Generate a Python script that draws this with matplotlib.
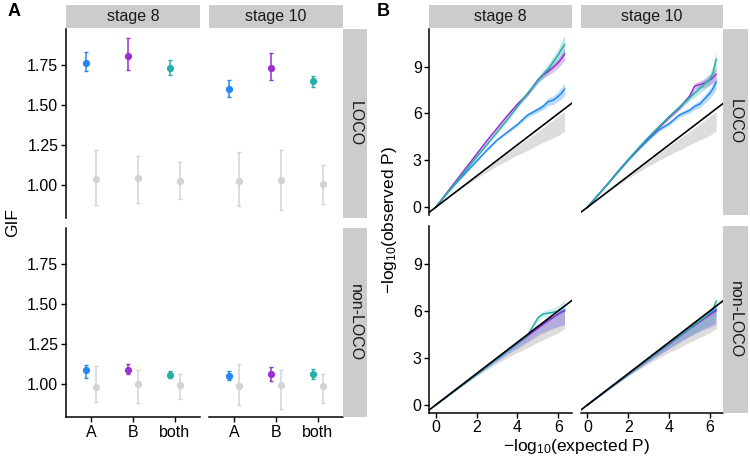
import matplotlib
matplotlib.use("Agg")
import matplotlib.pyplot as plt
import numpy as np

plt.rcParams['font.family'] = ['Liberation Sans', 'DejaVu Sans']
plt.rcParams['mathtext.fontset'] = 'custom'
plt.rcParams['mathtext.rm'] = 'Liberation Sans'
plt.rcParams['mathtext.it'] = 'Liberation Sans'

# ---- data: panel A (GIF estimates, colored = real trait, grey = null) ----
stages = ['stage 8', 'stage 10']
models = ['LOCO', 'non-LOCO']
traits = ['A', 'B', 'both']
trait_colors = ['#2389F0', '#9B30D0', '#22B2A8']

# [model][stage][trait]
gif_est = [[[1.767, 1.808, 1.735], [1.602, 1.731, 1.650]],
           [[1.086, 1.090, 1.058], [1.052, 1.062, 1.062]]]
gif_lo = [[[1.714, 1.720, 1.690], [1.550, 1.656, 1.612]],
          [[1.040, 1.064, 1.040], [1.023, 1.020, 1.033]]]
gif_hi = [[[1.830, 1.920, 1.780], [1.660, 1.825, 1.683]],
          [[1.120, 1.127, 1.083], [1.083, 1.104, 1.094]]]
null_est = [[[1.036, 1.042, 1.023], [1.023, 1.030, 1.006]],
            [[0.980, 1.002, 0.996], [0.990, 0.994, 0.988]]]
null_lo = [[[0.877, 0.886, 0.910], [0.866, 0.843, 0.878]],
           [[0.887, 0.880, 0.908], [0.871, 0.846, 0.880]]]
null_hi = [[[1.220, 1.180, 1.144], [1.205, 1.220, 1.128]],
           [[1.114, 1.090, 1.064], [1.127, 1.088, 1.060]]]

# ---- data: panel B (QQ curves) ----
qq_x = [0, 0.5, 1, 1.5, 2, 2.5, 3, 3.5, 4, 4.5, 5, 5.25, 5.5, 5.75, 6, 6.15, 6.3]

s8_loco_A = [0, 0.8, 1.55, 2.25, 2.95, 3.65, 4.3, 4.8, 5.3, 5.9, 6.25, 6.45, 6.75, 6.85, 7.1, 7.3, 7.55]
s8_loco_B = [0, 0.85, 1.7, 2.55, 3.4, 4.25, 5.05, 5.85, 6.6, 7.25, 8.15, 8.45, 8.7, 8.95, 9.25, 9.5, 9.8]
s8_loco_both = [0, 0.8, 1.6, 2.4, 3.2, 4.0, 4.8, 5.6, 6.45, 7.3, 8.1, 8.5, 8.85, 9.3, 9.75, 10.1, 10.4]
s10_loco_A = [0, 0.75, 1.5, 2.25, 3.0, 3.7, 4.35, 4.95, 5.35, 5.9, 6.2, 6.45, 6.6, 6.95, 7.3, 7.6, 8.0]
s10_loco_B = [0, 0.75, 1.5, 2.3, 3.05, 3.75, 4.45, 5.1, 5.75, 6.35, 7.1, 7.75, 7.85, 7.95, 8.15, 8.3, 8.5]
s10_loco_both = [0, 0.75, 1.5, 2.3, 3.05, 3.8, 4.5, 5.15, 5.8, 6.4, 7.0, 7.3, 7.6, 7.9, 8.2, 8.6, 9.45]
s8_non_A = [0, 0.49, 0.98, 1.47, 1.96, 2.45, 2.94, 3.43, 3.92, 4.42, 5.0, 5.2, 5.4, 5.6, 5.8, 5.95, 6.05]
s8_non_B = [0, 0.49, 0.98, 1.48, 1.98, 2.48, 2.98, 3.47, 3.93, 4.4, 4.88, 5.12, 5.35, 5.58, 5.8, 5.92, 6.0]
s8_non_both = [0, 0.48, 0.97, 1.45, 1.95, 2.45, 2.95, 3.45, 3.95, 4.45, 5.55, 5.8, 5.85, 5.9, 6.0, 6.15, 6.3]
s10_non_A = [0, 0.49, 0.98, 1.47, 1.96, 2.45, 2.94, 3.43, 3.92, 4.4, 4.88, 5.12, 5.36, 5.6, 5.84, 5.98, 6.1]
s10_non_B = [0, 0.49, 0.98, 1.46, 1.95, 2.44, 2.92, 3.4, 3.88, 4.36, 4.84, 5.07, 5.3, 5.52, 5.75, 5.88, 6.0]
s10_non_both = [0, 0.49, 0.98, 1.47, 1.96, 2.45, 2.94, 3.43, 3.92, 4.4, 4.88, 5.12, 5.36, 5.6, 5.9, 6.1, 6.6]

# ribbon widths below / above each curve
ci_small = [0, 0.02, 0.03, 0.04, 0.05, 0.06, 0.08, 0.1, 0.12, 0.14, 0.17, 0.2, 0.24, 0.28, 0.32, 0.36, 0.42]
ci_teal_end = [0, 0.02, 0.03, 0.04, 0.05, 0.06, 0.08, 0.1, 0.12, 0.15, 0.2, 0.25, 0.3, 0.35, 0.4, 0.5, 0.6]
ci_down_wide = [0, 0.02, 0.04, 0.06, 0.08, 0.12, 0.16, 0.22, 0.3, 0.38, 0.48, 0.55, 0.62, 0.7, 0.8, 0.85, 0.9]
ci_up_narrow = [0, 0.01, 0.02, 0.02, 0.03, 0.04, 0.05, 0.06, 0.07, 0.08, 0.1, 0.1, 0.12, 0.12, 0.14, 0.15, 0.2]
ci_spike_up = [0, 0.01, 0.02, 0.02, 0.03, 0.04, 0.05, 0.06, 0.07, 0.08, 0.1, 0.1, 0.12, 0.12, 0.14, 0.25, 0.35]

null_band_lo = [0, 0.5, 0.97, 1.42, 1.85, 2.25, 2.65, 3.0, 3.35, 3.65, 4.0, 4.15, 4.3, 4.45, 4.6, 4.75, 4.85]
null_band_hi = [0, 0.5, 1.0, 1.5, 2.0, 2.48, 2.97, 3.45, 3.93, 4.4, 4.85, 5.1, 5.35, 5.6, 5.85, 6.0, 6.1]

qq_curves = [[[s8_loco_A, s8_loco_B, s8_loco_both], [s10_loco_A, s10_loco_B, s10_loco_both]],
             [[s8_non_A, s8_non_B, s8_non_both], [s10_non_A, s10_non_B, s10_non_both]]]
qq_down = [[[ci_small, ci_small, ci_teal_end], [ci_small, ci_small, ci_teal_end]],
           [[ci_down_wide, ci_down_wide, ci_small], [ci_down_wide, ci_down_wide, ci_down_wide]]]
qq_up = [[[ci_small, ci_small, ci_teal_end], [ci_small, ci_small, ci_teal_end]],
         [[ci_up_narrow, ci_up_narrow, ci_small], [ci_up_narrow, ci_up_narrow, ci_spike_up]]]

W, H = 750, 461
fig = plt.figure(figsize=(W / 100, H / 100), dpi=100)
STRIP = '#CCCCCC'
GREY = '#D3D3D3'


def ax_px(x0, y0, x1, y1):
    return fig.add_axes([x0 / W, 1 - y1 / H, (x1 - x0) / W, (y1 - y0) / H])


def strip(x0, y0, x1, y1, label, rot=0):
    s = ax_px(x0, y0, x1, y1)
    s.set_facecolor(STRIP)
    s.set_xticks([])
    s.set_yticks([])
    for sp in s.spines.values():
        sp.set_visible(False)
    s.text(0.5, 0.5, label, transform=s.transAxes, ha='center', va='center',
           rotation=rot, fontsize=11.5, color='#1A1A1A')


def style_axis(ax, row, col):
    for sp in ['top', 'right']:
        ax.spines[sp].set_visible(False)
    ax.spines['left'].set_visible(col == 0)
    ax.spines['bottom'].set_visible(row == 1)
    for sp in ['left', 'bottom']:
        ax.spines[sp].set_linewidth(1.1)
    ax.tick_params(axis='both', length=3.5, width=1.0, labelsize=11.5, colors='black', pad=2)
    if col != 0:
        ax.tick_params(axis='y', left=False, labelleft=False)
    if row != 1:
        ax.tick_params(axis='x', bottom=False, labelbottom=False)


# ---- Panel A ----
a_cols = [(66, 200), (209, 343)]
a_rows = [(29, 218), (228, 417)]
pos = np.arange(1, len(traits) + 1)
dodge = 0.125
for r, (y0, y1) in enumerate(a_rows):
    for c, (x0, x1) in enumerate(a_cols):
        ax = ax_px(x0, y0, x1, y1)
        for k in range(len(traits)):
            e = null_est[r][c][k]
            ax.errorbar(pos[k] + dodge, e,
                        yerr=[[e - null_lo[r][c][k]], [null_hi[r][c][k] - e]],
                        fmt='o', color=GREY, ms=4.2, elinewidth=1.1, capsize=1.6, capthick=1.0)
            g = gif_est[r][c][k]
            ax.errorbar(pos[k] - dodge, g,
                        yerr=[[g - gif_lo[r][c][k]], [gif_hi[r][c][k] - g]],
                        fmt='o', color=trait_colors[k], ms=4.2, elinewidth=1.1, capsize=1.6, capthick=1.0)
        ax.set_xlim(0.4, 3.6)
        ax.set_ylim(0.793, 1.977)
        ax.set_xticks(pos)
        ax.set_xticklabels(traits)
        ax.set_yticks([1.00, 1.25, 1.50, 1.75])
        ax.set_yticklabels(['1.00', '1.25', '1.50', '1.75'])
        style_axis(ax, r, c)
for c, (x0, x1) in enumerate(a_cols):
    strip(x0, 5, x1, 28, stages[c])
for r, (y0, y1) in enumerate(a_rows):
    strip(343, y0, 367, y1, models[r], rot=-90)

# ---- Panel B ----
b_cols = [(429.3, 571.7), (581, 723.3)]
b_rows = [(29, 215), (226, 412.7)]
for r, (y0, y1) in enumerate(b_rows):
    for c, (x0, x1) in enumerate(b_cols):
        ax = ax_px(x0, y0, x1, y1)
        ax.fill_between(qq_x, null_band_lo, null_band_hi, color='#CFCFCF', alpha=0.7, lw=0)
        for k in range(len(traits)):
            y = np.array(qq_curves[r][c][k])
            lo = y - np.array(qq_down[r][c][k])
            hi = y + np.array(qq_up[r][c][k])
            ax.fill_between(qq_x, lo, hi, color=trait_colors[k], alpha=0.3 if r == 0 else 0.2, lw=0)
            ax.plot(qq_x, y, color=trait_colors[k], lw=1.1)
        ax.axline((0, 0), slope=1, color='black', lw=1.2)
        ax.set_xlim(-0.31, 6.65)
        ax.set_ylim(-0.49, 11.4)
        ax.set_xticks([0, 2, 4, 6])
        ax.set_yticks([0, 3, 6, 9])
        style_axis(ax, r, c)
for c, (x0, x1) in enumerate(b_cols):
    strip(x0, 5, x1, 28, stages[c])
for r, (y0, y1) in enumerate(b_rows):
    strip(723.3, y0, 748, y1, models[r], rot=-90)

# ---- titles and labels ----
fig.text(8 / W, 1 - 11 / H, 'A', fontsize=13, fontweight='bold', ha='left', va='center')
fig.text(377 / W, 1 - 11 / H, 'B', fontsize=13, fontweight='bold', ha='left', va='center')
fig.text(13 / W, 1 - 223 / H, 'GIF', fontsize=12.5, rotation=90, ha='center', va='center')
fig.text(389 / W, 1 - 220 / H, '\u2212log$_{10}$(observed P)', fontsize=12.5,
         rotation=90, ha='center', va='center')
fig.text(576 / W, 1 - 446 / H, '\u2212log$_{10}$(expected P)', fontsize=12.5,
         ha='center', va='center')

fig.savefig('out.png', dpi=100)
